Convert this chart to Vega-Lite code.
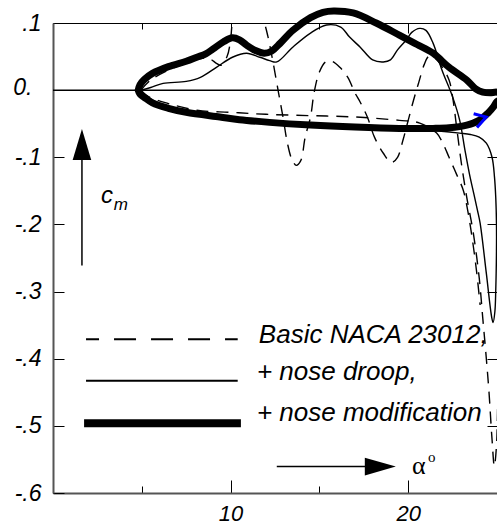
{
  "$schema": "https://vega.github.io/schema/vega-lite/v6.json",
  "width": 444,
  "height": 470,
  "autosize": {"type": "none"},
  "padding": {"left": 53, "top": 23, "right": 0, "bottom": 32},
  "background": "white",
  "config": {
    "view": {"stroke": "black", "strokeWidth": 1},
    "font": "Liberation Sans",
    "axis": {"grid": false}
  },
  "datasets": {
    "curves": [
      {"s":"mod","g":"a","o":1,"a":4.8,"cm":0.0},
      {"s":"mod","g":"a","o":2,"a":4.9,"cm":0.008},
      {"s":"mod","g":"a","o":3,"a":5.15,"cm":0.016},
      {"s":"mod","g":"a","o":4,"a":5.6,"cm":0.025},
      {"s":"mod","g":"a","o":5,"a":6.5,"cm":0.035},
      {"s":"mod","g":"a","o":6,"a":7.5,"cm":0.043},
      {"s":"mod","g":"a","o":7,"a":8.1,"cm":0.049},
      {"s":"mod","g":"a","o":8,"a":8.6,"cm":0.054},
      {"s":"mod","g":"a","o":9,"a":9.0,"cm":0.061},
      {"s":"mod","g":"a","o":10,"a":9.6,"cm":0.072},
      {"s":"mod","g":"a","o":11,"a":10.1,"cm":0.078},
      {"s":"mod","g":"a","o":12,"a":10.5,"cm":0.075},
      {"s":"mod","g":"a","o":13,"a":10.9,"cm":0.067},
      {"s":"mod","g":"a","o":14,"a":11.4,"cm":0.059},
      {"s":"mod","g":"a","o":15,"a":11.9,"cm":0.055},
      {"s":"mod","g":"a","o":16,"a":12.3,"cm":0.058},
      {"s":"mod","g":"a","o":17,"a":12.8,"cm":0.07},
      {"s":"mod","g":"a","o":18,"a":13.5,"cm":0.089},
      {"s":"mod","g":"a","o":19,"a":14.5,"cm":0.108},
      {"s":"mod","g":"a","o":20,"a":15.2,"cm":0.116},
      {"s":"mod","g":"a","o":21,"a":15.8,"cm":0.118},
      {"s":"mod","g":"a","o":22,"a":16.9,"cm":0.115},
      {"s":"mod","g":"a","o":23,"a":18.2,"cm":0.1},
      {"s":"mod","g":"a","o":24,"a":19.5,"cm":0.082},
      {"s":"mod","g":"a","o":25,"a":20.5,"cm":0.068},
      {"s":"mod","g":"a","o":26,"a":21.4,"cm":0.055},
      {"s":"mod","g":"a","o":27,"a":22.3,"cm":0.034},
      {"s":"mod","g":"a","o":28,"a":23.3,"cm":0.015},
      {"s":"mod","g":"a","o":29,"a":23.8,"cm":0.002},
      {"s":"mod","g":"a","o":30,"a":24.2,"cm":-0.003},
      {"s":"mod","g":"a","o":31,"a":24.6,"cm":-0.004},
      {"s":"mod","g":"a","o":32,"a":25.0,"cm":-0.003},
      {"s":"mod","g":"a","o":33,"a":25.3,"cm":-0.006},
      {"s":"mod","g":"a","o":34,"a":25.3,"cm":-0.012},
      {"s":"mod","g":"a","o":35,"a":25.0,"cm":-0.017},
      {"s":"mod","g":"a","o":36,"a":24.8,"cm":-0.025},
      {"s":"mod","g":"a","o":37,"a":24.5,"cm":-0.034},
      {"s":"mod","g":"a","o":38,"a":24.0,"cm":-0.045},
      {"s":"mod","g":"a","o":39,"a":23.3,"cm":-0.052},
      {"s":"mod","g":"a","o":40,"a":22.3,"cm":-0.056},
      {"s":"mod","g":"a","o":41,"a":21.4,"cm":-0.057},
      {"s":"mod","g":"a","o":42,"a":19.5,"cm":-0.057},
      {"s":"mod","g":"a","o":43,"a":17.0,"cm":-0.055},
      {"s":"mod","g":"a","o":44,"a":14.5,"cm":-0.052},
      {"s":"mod","g":"a","o":45,"a":12.2,"cm":-0.048},
      {"s":"mod","g":"a","o":46,"a":10.5,"cm":-0.044},
      {"s":"mod","g":"a","o":47,"a":9.4,"cm":-0.04},
      {"s":"mod","g":"a","o":48,"a":7.5,"cm":-0.033},
      {"s":"mod","g":"a","o":49,"a":6.5,"cm":-0.027},
      {"s":"mod","g":"a","o":50,"a":5.6,"cm":-0.019},
      {"s":"mod","g":"a","o":51,"a":5.15,"cm":-0.011},
      {"s":"mod","g":"a","o":52,"a":4.9,"cm":-0.006},
      {"s":"mod","g":"a","o":53,"a":4.8,"cm":0.0},

      {"s":"droop","g":"a","o":1,"a":4.95,"cm":0.0},
      {"s":"droop","g":"a","o":2,"a":5.5,"cm":0.004},
      {"s":"droop","g":"a","o":3,"a":6.2,"cm":0.01},
      {"s":"droop","g":"a","o":4,"a":7.5,"cm":0.013},
      {"s":"droop","g":"a","o":5,"a":8.3,"cm":0.019},
      {"s":"droop","g":"a","o":6,"a":9.2,"cm":0.034},
      {"s":"droop","g":"a","o":7,"a":10.1,"cm":0.049},
      {"s":"droop","g":"a","o":8,"a":10.9,"cm":0.055},
      {"s":"droop","g":"a","o":9,"a":11.65,"cm":0.049},
      {"s":"droop","g":"a","o":10,"a":12.2,"cm":0.044},
      {"s":"droop","g":"a","o":11,"a":12.6,"cm":0.042},
      {"s":"droop","g":"a","o":12,"a":13.5,"cm":0.064},
      {"s":"droop","g":"a","o":13,"a":14.5,"cm":0.085},
      {"s":"droop","g":"a","o":14,"a":15.4,"cm":0.097},
      {"s":"droop","g":"a","o":15,"a":16.2,"cm":0.094},
      {"s":"droop","g":"a","o":16,"a":16.7,"cm":0.079},
      {"s":"droop","g":"a","o":17,"a":17.3,"cm":0.064},
      {"s":"droop","g":"a","o":18,"a":18.0,"cm":0.045},
      {"s":"droop","g":"a","o":19,"a":18.6,"cm":0.042},
      {"s":"droop","g":"a","o":20,"a":19.0,"cm":0.045},
      {"s":"droop","g":"a","o":21,"a":19.4,"cm":0.06},
      {"s":"droop","g":"a","o":22,"a":19.9,"cm":0.075},
      {"s":"droop","g":"a","o":23,"a":20.2,"cm":0.086},
      {"s":"droop","g":"a","o":24,"a":20.65,"cm":0.092},
      {"s":"droop","g":"a","o":25,"a":21.0,"cm":0.089},
      {"s":"droop","g":"a","o":26,"a":21.4,"cm":0.07},
      {"s":"droop","g":"a","o":27,"a":21.9,"cm":0.03},
      {"s":"droop","g":"a","o":28,"a":22.5,"cm":-0.01},
      {"s":"droop","g":"a","o":29,"a":22.9,"cm":-0.045},
      {"s":"droop","g":"a","o":30,"a":23.2,"cm":-0.09},
      {"s":"droop","g":"a","o":31,"a":23.45,"cm":-0.125},
      {"s":"droop","g":"a","o":32,"a":23.7,"cm":-0.155},
      {"s":"droop","g":"a","o":33,"a":23.9,"cm":-0.179},
      {"s":"droop","g":"a","o":34,"a":24.05,"cm":-0.198},
      {"s":"droop","g":"a","o":35,"a":24.4,"cm":-0.273},
      {"s":"droop","g":"a","o":36,"a":24.7,"cm":-0.338},
      {"s":"droop","g":"a","o":37,"a":24.78,"cm":-0.346},
      {"s":"droop","g":"a","o":38,"a":24.88,"cm":-0.33},
      {"s":"droop","g":"a","o":39,"a":24.93,"cm":-0.298},
      {"s":"droop","g":"a","o":40,"a":24.97,"cm":-0.24},
      {"s":"droop","g":"a","o":41,"a":24.97,"cm":-0.198},
      {"s":"droop","g":"a","o":42,"a":24.93,"cm":-0.16},
      {"s":"droop","g":"a","o":43,"a":24.86,"cm":-0.13},
      {"s":"droop","g":"a","o":44,"a":24.72,"cm":-0.1},
      {"s":"droop","g":"a","o":45,"a":24.4,"cm":-0.079},
      {"s":"droop","g":"a","o":46,"a":24.0,"cm":-0.07},
      {"s":"droop","g":"a","o":47,"a":23.5,"cm":-0.066},
      {"s":"droop","g":"a","o":48,"a":22.9,"cm":-0.064},
      {"s":"droop","g":"a","o":49,"a":21.4,"cm":-0.06},
      {"s":"droop","g":"a","o":50,"a":19.5,"cm":-0.056},
      {"s":"droop","g":"a","o":51,"a":15.0,"cm":-0.052},
      {"s":"droop","g":"a","o":52,"a":12.0,"cm":-0.047},
      {"s":"droop","g":"a","o":53,"a":9.4,"cm":-0.04},
      {"s":"droop","g":"a","o":54,"a":7.5,"cm":-0.032},
      {"s":"droop","g":"a","o":55,"a":6.2,"cm":-0.022},
      {"s":"droop","g":"a","o":56,"a":5.4,"cm":-0.012},
      {"s":"droop","g":"a","o":57,"a":5.0,"cm":-0.004},
      {"s":"droop","g":"a","o":58,"a":4.95,"cm":0.0},

      {"s":"basic","g":"up","o":1,"a":4.95,"cm":0.0},
      {"s":"basic","g":"up","o":2,"a":5.5,"cm":0.015},
      {"s":"basic","g":"up","o":3,"a":6.5,"cm":0.03},
      {"s":"basic","g":"up","o":4,"a":7.5,"cm":0.04},
      {"s":"basic","g":"up","o":5,"a":8.3,"cm":0.047},
      {"s":"basic","g":"up","o":6,"a":8.8,"cm":0.047},
      {"s":"basic","g":"up","o":7,"a":9.2,"cm":0.04},
      {"s":"basic","g":"up","o":8,"a":9.45,"cm":0.037},
      {"s":"basic","g":"up","o":9,"a":9.8,"cm":0.05},
      {"s":"basic","g":"up","o":10,"a":10.0,"cm":0.075},
      {"s":"basic","g":"up","o":11,"a":10.1,"cm":0.1},
      {"s":"basic","g":"up","o":12,"a":10.4,"cm":0.125},
      {"s":"basic","g":"up","o":13,"a":10.9,"cm":0.135},
      {"s":"basic","g":"up","o":14,"a":11.5,"cm":0.125},
      {"s":"basic","g":"up","o":15,"a":11.9,"cm":0.1},
      {"s":"basic","g":"up","o":16,"a":12.1,"cm":0.08},
      {"s":"basic","g":"up","o":17,"a":12.4,"cm":0.04},
      {"s":"basic","g":"up","o":18,"a":12.7,"cm":-0.004},
      {"s":"basic","g":"up","o":19,"a":12.95,"cm":-0.04},
      {"s":"basic","g":"up","o":20,"a":13.2,"cm":-0.079},
      {"s":"basic","g":"up","o":21,"a":13.45,"cm":-0.103},
      {"s":"basic","g":"up","o":22,"a":13.7,"cm":-0.112},
      {"s":"basic","g":"up","o":23,"a":13.95,"cm":-0.105},
      {"s":"basic","g":"up","o":24,"a":14.2,"cm":-0.07},
      {"s":"basic","g":"up","o":25,"a":14.5,"cm":-0.04},
      {"s":"basic","g":"up","o":26,"a":14.7,"cm":-0.004},
      {"s":"basic","g":"up","o":27,"a":15.0,"cm":0.027},
      {"s":"basic","g":"up","o":28,"a":15.35,"cm":0.042},
      {"s":"basic","g":"up","o":29,"a":15.7,"cm":0.043},
      {"s":"basic","g":"up","o":30,"a":16.15,"cm":0.034},
      {"s":"basic","g":"up","o":31,"a":16.6,"cm":0.019},
      {"s":"basic","g":"up","o":32,"a":17.0,"cm":-0.004},
      {"s":"basic","g":"up","o":33,"a":17.3,"cm":-0.018},
      {"s":"basic","g":"up","o":34,"a":17.7,"cm":-0.04},
      {"s":"basic","g":"up","o":35,"a":18.1,"cm":-0.07},
      {"s":"basic","g":"up","o":36,"a":18.6,"cm":-0.094},
      {"s":"basic","g":"up","o":37,"a":19.05,"cm":-0.108},
      {"s":"basic","g":"up","o":38,"a":19.4,"cm":-0.1},
      {"s":"basic","g":"up","o":39,"a":19.7,"cm":-0.075},
      {"s":"basic","g":"up","o":40,"a":20.0,"cm":-0.045},
      {"s":"basic","g":"up","o":41,"a":20.3,"cm":-0.015},
      {"s":"basic","g":"up","o":42,"a":20.6,"cm":0.012},
      {"s":"basic","g":"up","o":43,"a":20.9,"cm":0.038},
      {"s":"basic","g":"up","o":44,"a":21.15,"cm":0.05},
      {"s":"basic","g":"up","o":45,"a":21.5,"cm":0.048},
      {"s":"basic","g":"up","o":46,"a":21.9,"cm":0.035},
      {"s":"basic","g":"up","o":47,"a":22.3,"cm":0.015},
      {"s":"basic","g":"up","o":48,"a":22.5,"cm":-0.01},
      {"s":"basic","g":"up","o":49,"a":22.75,"cm":-0.06},
      {"s":"basic","g":"up","o":50,"a":23.0,"cm":-0.11},
      {"s":"basic","g":"up","o":51,"a":23.3,"cm":-0.16},
      {"s":"basic","g":"up","o":52,"a":23.65,"cm":-0.21},
      {"s":"basic","g":"up","o":53,"a":24.0,"cm":-0.28},
      {"s":"basic","g":"up","o":54,"a":24.2,"cm":-0.34},
      {"s":"basic","g":"up","o":55,"a":24.4,"cm":-0.4},
      {"s":"basic","g":"up","o":56,"a":24.55,"cm":-0.45},
      {"s":"basic","g":"up","o":57,"a":24.72,"cm":-0.52},
      {"s":"basic","g":"up","o":58,"a":24.85,"cm":-0.56},
      {"s":"basic","g":"up","o":59,"a":24.97,"cm":-0.53},
      {"s":"basic","g":"up","o":60,"a":25.05,"cm":-0.45},
      {"s":"basic","g":"up","o":61,"a":25.1,"cm":-0.38},

      {"s":"basic","g":"low","o":1,"a":4.95,"cm":0.0},
      {"s":"basic","g":"low","o":2,"a":5.4,"cm":-0.01},
      {"s":"basic","g":"low","o":3,"a":6.5,"cm":-0.02},
      {"s":"basic","g":"low","o":4,"a":8.1,"cm":-0.03},
      {"s":"basic","g":"low","o":5,"a":10.0,"cm":-0.033},
      {"s":"basic","g":"low","o":6,"a":12.0,"cm":-0.036},
      {"s":"basic","g":"low","o":7,"a":14.5,"cm":-0.038},
      {"s":"basic","g":"low","o":8,"a":17.0,"cm":-0.04},
      {"s":"basic","g":"low","o":9,"a":19.5,"cm":-0.045},
      {"s":"basic","g":"low","o":10,"a":20.65,"cm":-0.049},
      {"s":"basic","g":"low","o":11,"a":21.6,"cm":-0.064},
      {"s":"basic","g":"low","o":12,"a":21.95,"cm":-0.079},
      {"s":"basic","g":"low","o":13,"a":22.3,"cm":-0.1},
      {"s":"basic","g":"low","o":14,"a":22.7,"cm":-0.124},
      {"s":"basic","g":"low","o":15,"a":23.1,"cm":-0.149},
      {"s":"basic","g":"low","o":16,"a":23.35,"cm":-0.179},
      {"s":"basic","g":"low","o":17,"a":23.6,"cm":-0.22},
      {"s":"basic","g":"low","o":18,"a":23.85,"cm":-0.27},
      {"s":"basic","g":"low","o":19,"a":24.05,"cm":-0.32}
    ],
    "legend": [
      {"s":"basic","a":1.86,"a2":10.4,"cm":-0.371},
      {"s":"droop","a":1.86,"a2":10.4,"cm":-0.433},
      {"s":"mod","a":1.75,"a2":10.58,"cm":-0.496}
    ],
    "texts": [
      {"k":"leg","a":11.59,"cm":-0.377,"t":"Basic NACA 23012,"},
      {"k":"leg","a":11.48,"cm":-0.432,"t":"+ nose droop,"},
      {"k":"leg","a":11.48,"cm":-0.493,"t":"+ nose modification"},
      {"k":"c","a":3.04,"cm":-0.158,"t":"c"},
      {"k":"m","a":3.82,"cm":-0.171,"t":"m"},
      {"k":"alpha","a":20.6,"cm":-0.56,"t":"α"},
      {"k":"deg","a":21.33,"cm":-0.547,"t":"o"}
    ],
    "arrows": [
      {"k":"cm","a":1.63,"a2":1.63,"cm":-0.261,"cm2":-0.1},
      {"k":"alpha","a":12.6,"a2":17.7,"cm":-0.5606,"cm2":-0.5606},
      {"k":"zero","a":0,"a2":25,"cm":0,"cm2":0}
    ],
    "heads": [
      {"k":"up","a":1.63,"cm":-0.081},
      {"k":"right","a":18.43,"cm":-0.5606}
    ],
    "marker": [
      {"a":24.04,"cm":-0.0445}
    ]
  },
  "layer": [
    {
      "encoding": {
        "x": {
          "field": "a", "type": "quantitative", "title": null,
          "scale": {"domain": [0, 25], "nice": false, "zero": false},
          "axis": {
            "title": null, "orient": "bottom", "values": [5, 10, 15, 20],
            "labelExpr": "datum.value % 10 == 0 ? datum.label : ''",
            "tickSize": {"condition": {"test": "datum.value % 10 == 0", "value": -13}, "value": -7},
            "tickColor": "black", "tickWidth": 1,
            "domainColor": "#555", "domainWidth": 2,
            "labelPadding": 23, "labelFont": "Liberation Sans", "labelFontStyle": "italic",
            "labelFontSize": 22, "labelColor": "black", "labelOverlap": false, "labelFlush": false
          }
        },
        "y": {
          "field": "cm", "type": "quantitative", "title": null,
          "scale": {"domain": [-0.6, 0.1], "nice": false, "zero": false},
          "axis": {
            "title": null, "orient": "left", "values": [-0.6, -0.5, -0.4, -0.3, -0.2, -0.1, 0, 0.1],
            "labelExpr": "datum.value == 0 ? '0.' : (datum.value < 0 ? '-' : '') + '.' + abs(round(datum.value * 10))",
            "tickSize": -11, "tickColor": "black", "tickWidth": 1,
            "domainColor": "#555", "domainWidth": 2,
            "labelPadding": {"condition": {"test": "datum.value == 0", "value": 32}, "value": 23},
            "labelOffset": {"condition": {"test": "datum.value == 0", "value": -3}, "value": 0},
            "labelFont": "Liberation Sans", "labelFontStyle": "italic",
            "labelFontSize": 23, "labelColor": "black", "labelOverlap": false, "labelFlush": false
          }
        }
      },
      "layer": [
        {
          "data": {"name": "arrows"},
          "transform": [{"filter": "datum.k == 'zero'"}],
          "mark": {"type": "rule", "color": "black", "strokeWidth": 1.5},
          "encoding": {"x2": {"field": "a2"}, "y2": {"field": "cm2"}}
        },
        {
          "data": {"name": "curves"},
          "transform": [{"filter": "datum.s == 'mod'"}],
          "mark": {"type": "line", "color": "black", "strokeWidth": 7, "interpolate": "catmull-rom", "clip": false, "strokeJoin": "round", "strokeCap": "round"},
          "encoding": {"order": {"field": "o", "type": "quantitative"}}
        },
        {
          "data": {"name": "curves"},
          "transform": [{"filter": "datum.s == 'droop'"}],
          "mark": {"type": "line", "color": "black", "strokeWidth": 1.4, "interpolate": "catmull-rom", "clip": false},
          "encoding": {"order": {"field": "o", "type": "quantitative"}}
        },
        {
          "data": {"name": "curves"},
          "transform": [{"filter": "datum.s == 'basic'"}],
          "mark": {"type": "line", "color": "black", "strokeWidth": 1.4, "strokeDash": [12, 8], "interpolate": "catmull-rom", "clip": true},
          "encoding": {"detail": {"field": "g"}, "order": {"field": "o", "type": "quantitative"}}
        },
        {
          "data": {"name": "legend"},
          "transform": [{"filter": "datum.s == 'basic'"}],
          "mark": {"type": "rule", "color": "black", "strokeWidth": 2, "strokeDash": [22, 15], "strokeDashOffset": 9},
          "encoding": {"x2": {"field": "a2"}}
        },
        {
          "data": {"name": "legend"},
          "transform": [{"filter": "datum.s == 'droop'"}],
          "mark": {"type": "rule", "color": "black", "strokeWidth": 2},
          "encoding": {"x2": {"field": "a2"}}
        },
        {
          "data": {"name": "legend"},
          "transform": [{"filter": "datum.s == 'mod'"}],
          "mark": {"type": "rule", "color": "black", "strokeWidth": 8},
          "encoding": {"x2": {"field": "a2"}}
        },
        {
          "data": {"name": "texts"},
          "transform": [{"filter": "datum.k == 'leg'"}],
          "mark": {"type": "text", "align": "left", "baseline": "alphabetic", "font": "Liberation Sans", "fontStyle": "italic", "fontSize": 26, "color": "black"},
          "encoding": {"text": {"field": "t"}}
        },
        {
          "data": {"name": "texts"},
          "transform": [{"filter": "datum.k == 'c'"}],
          "mark": {"type": "text", "align": "center", "baseline": "middle", "font": "Liberation Sans", "fontStyle": "italic", "fontSize": 24, "color": "black"},
          "encoding": {"text": {"field": "t"}}
        },
        {
          "data": {"name": "texts"},
          "transform": [{"filter": "datum.k == 'm'"}],
          "mark": {"type": "text", "align": "center", "baseline": "middle", "font": "Liberation Sans", "fontStyle": "italic", "fontSize": 17, "color": "black"},
          "encoding": {"text": {"field": "t"}}
        },
        {
          "data": {"name": "texts"},
          "transform": [{"filter": "datum.k == 'alpha'"}],
          "mark": {"type": "text", "align": "center", "baseline": "middle", "font": "Liberation Serif", "fontSize": 26, "color": "black"},
          "encoding": {"text": {"field": "t"}}
        },
        {
          "data": {"name": "texts"},
          "transform": [{"filter": "datum.k == 'deg'"}],
          "mark": {"type": "text", "align": "center", "baseline": "middle", "font": "Liberation Serif", "fontSize": 15, "color": "black"},
          "encoding": {"text": {"field": "t"}}
        },
        {
          "data": {"name": "arrows"},
          "transform": [{"filter": "datum.k != 'zero'"}],
          "mark": {"type": "rule", "color": "black", "strokeWidth": 1.5},
          "encoding": {"x2": {"field": "a2"}, "y2": {"field": "cm2"}}
        },
        {
          "data": {"name": "heads"},
          "transform": [{"filter": "datum.k == 'up'"}],
          "mark": {"type": "point", "shape": "M0,-1L0.6,1L-0.6,1Z", "size": 961, "filled": true, "color": "black", "opacity": 1, "strokeWidth": 0},
          "encoding": {}
        },
        {
          "data": {"name": "heads"},
          "transform": [{"filter": "datum.k == 'right'"}],
          "mark": {"type": "point", "shape": "M-1,-0.57L1,0L-1,0.57Z", "size": 961, "filled": true, "color": "black", "opacity": 1, "strokeWidth": 0},
          "encoding": {}
        },
        {
          "data": {"name": "marker"},
          "mark": {"type": "point", "shape": "M-0.85,-0.85L0.85,-0.4L-0.4,1", "size": 220, "filled": false, "color": "blue", "opacity": 1, "strokeWidth": 3},
          "encoding": {}
        }
      ]
    },
    {
      "data": {"name": "marker"},
      "mark": {"type": "point", "opacity": 0},
      "encoding": {
        "x": {
          "field": "a", "type": "quantitative", "title": null,
          "scale": {"domain": [0, 25], "nice": false, "zero": false},
          "axis": {
            "title": null, "orient": "top", "values": [5, 10, 15, 20], "labels": false, "domain": false,
            "tickSize": {"condition": {"test": "datum.value % 10 == 0", "value": -10}, "value": -6},
            "tickColor": "black", "tickWidth": 1
          }
        },
        "y": {
          "field": "cm", "type": "quantitative", "title": null,
          "scale": {"domain": [-0.6, 0.1], "nice": false, "zero": false},
          "axis": {
            "title": null, "orient": "right", "values": [-0.5, -0.4, -0.3, -0.2, -0.1, 0],
            "labels": false, "domain": false, "tickSize": -10, "tickColor": "black", "tickWidth": 1
          }
        }
      }
    }
  ],
  "resolve": {"axis": {"x": "independent", "y": "independent"}}
}
